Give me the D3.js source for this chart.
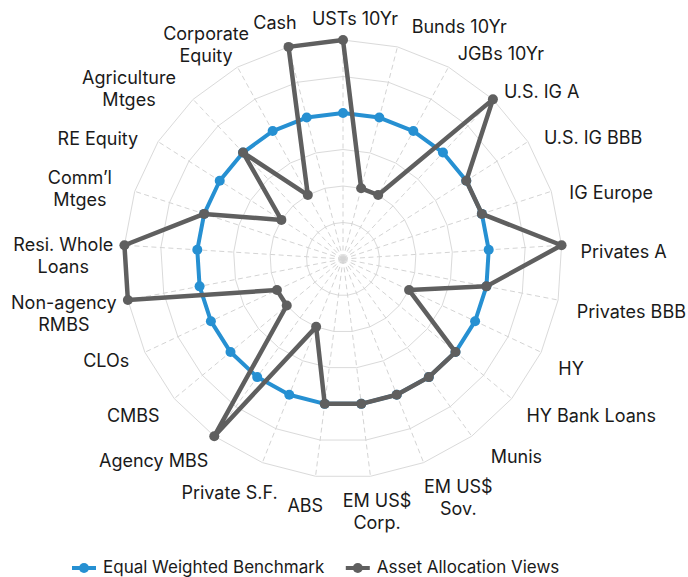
<!DOCTYPE html>
<html><head><meta charset="utf-8">
<script src="https://cdn.jsdelivr.net/npm/d3@7"></script>
<style>
html,body{margin:0;padding:0;background:#fff;}
svg{display:block;font-family:Inter,"Open Sans",sans-serif;}
</style></head><body>
<svg id="chart" width="688" height="577"></svg>
<script>
// ---------- data ----------
const categories = ["USTs 10Yr","Bunds 10Yr","JGBs 10Yr","U.S. IG A","U.S. IG BBB","IG Europe","Privates A","Privates BBB","HY","HY Bank Loans","Munis","EM US$\nSov.","EM US$\nCorp.","ABS","Private S.F.","Agency MBS","CMBS","CLOs","Non-agency\nRMBS","Resi. Whole\nLoans","Comm’l\nMtges","RE Equity","Agriculture\nMtges","Corporate\nEquity","Cash"];
const benchmark = [4,4,4,4,4,4,4,4,4,4,4,4,4,4,4,4,4,4,4,4,4,4,4,4,4];
const views     = [6,2,2,6,4,4,6,4,2,4,4,4,4,4,2,6,2,2,6,6,4,2,4,2,6];
const seriesNames = ["Equal Weighted Benchmark","Asset Allocation Views"];
const gridLevels = [1,2,3,4,5,6];

// ---------- layout / style ----------
const cx = 343, cy = 259, R = 219, labelR = 238;
const fontSize = 18, legendFont = 17, lineH = 22;
const colors = ["#2690d2", "#5f5f5f"];
// small per-label nudges [dx, dy] applied after automatic placement
const labelNudge = [[12,-10],[9.5,-8.7],[0,-4],[-2,-1],[0,-1],[0,-0.3],[0,0.7],[0,1],[0,0.7],[0,-2.2],[7.8,-1.8],[-6.6,10.2],[4.2,9.6],[-7.9,2.9],[22.3,4.7],[5.2,2.2],[0,-2.2],[1.6,-6.6],[7.5,3.2],[7.8,4],[-4.7,-3.8],[-3.8,0.3],[-4.1,-4.3],[20.7,-13],[12.9,-13]];

const svg = d3.select("#chart");
const n = categories.length;
const ang = d3.scaleLinear().domain([0, n]).range([0, 2 * Math.PI]);
const rad = d3.scaleLinear().domain([0, 6]).range([0, R]);
const g = svg.append("g").attr("transform", `translate(${cx},${cy})`);

const idx = d3.range(n);
const radial = d3.lineRadial().angle(i => ang(i)).curve(d3.curveLinearClosed);

// grid rings
g.selectAll("path.ring").data(gridLevels).join("path")
  .attr("class","ring")
  .attr("d", lv => radial.radius(() => rad(lv))(idx))
  .attr("fill","none").attr("stroke","#dadada").attr("stroke-width",1);

// spokes
g.selectAll("line.spoke").data(idx).join("line")
  .attr("x1",0).attr("y1",0)
  .attr("x2", i => rad(6) * Math.sin(ang(i)))
  .attr("y2", i => -rad(6) * Math.cos(ang(i)))
  .attr("stroke","#d4d4d4").attr("stroke-width",1)
  .attr("stroke-dasharray","5,3.5");

// series
function drawSeries(vals, color, sw, mr) {
  const line = d3.lineRadial().angle((d,i) => ang(i)).radius(d => rad(d)).curve(d3.curveLinearClosed);
  g.append("path").attr("d", line(vals)).attr("fill","none")
    .attr("stroke", color).attr("stroke-width", sw).attr("stroke-linejoin","round");
  g.selectAll(null).data(vals).join("circle")
    .attr("cx", (d,i) => rad(d) * Math.sin(ang(i)))
    .attr("cy", (d,i) => -rad(d) * Math.cos(ang(i)))
    .attr("r", mr).attr("fill", color);
}
drawSeries(benchmark, colors[0], 4, 5);
drawSeries(views, colors[1], 4.5, 5);

// category labels
const capH = 0.727 * fontSize;
categories.forEach((c, i) => {
  const a = ang(i);
  const s = Math.sin(a), co = Math.cos(a);
  const ax = cx + labelR * s, ay = cy - labelR * co;
  const lines = c.split("\n");
  const t = svg.append("text").attr("font-size", fontSize).attr("fill","#1a1a1a")
    .attr("text-anchor","middle");
  const spans = lines.map(l => t.append("tspan").text(l));
  const w = d3.max(spans, sp => sp.node().getComputedTextLength());
  let x = ax;
  if (Math.abs(s) >= 0.2) x = s > 0 ? ax + w / 2 : ax - w / 2;
  x += labelNudge[i][0];
  const capCenter = ay + 7 + labelNudge[i][1];
  const firstBase = capCenter - (lines.length - 1) * lineH / 2 + capH / 2;
  spans.forEach((sp, k) => sp.attr("x", x).attr("y", firstBase + k * lineH));
});

// legend
const leg = svg.append("g").attr("transform","translate(72,568)");
let lx = 0;
seriesNames.forEach((name, k) => {
  const it = leg.append("g").attr("transform", `translate(${lx},0)`);
  it.append("line").attr("x1",0).attr("x2",24).attr("y1",0).attr("y2",0)
    .attr("stroke", colors[k]).attr("stroke-width",4);
  it.append("circle").attr("cx",12).attr("cy",0).attr("r",5).attr("fill",colors[k]);
  const tx = it.append("text").attr("x",31).attr("y",5).attr("font-size",legendFont)
    .attr("fill","#1a1a1a").text(name);
  lx += 31 + tx.node().getComputedTextLength() + 21.5;
});
</script>
</body></html>
